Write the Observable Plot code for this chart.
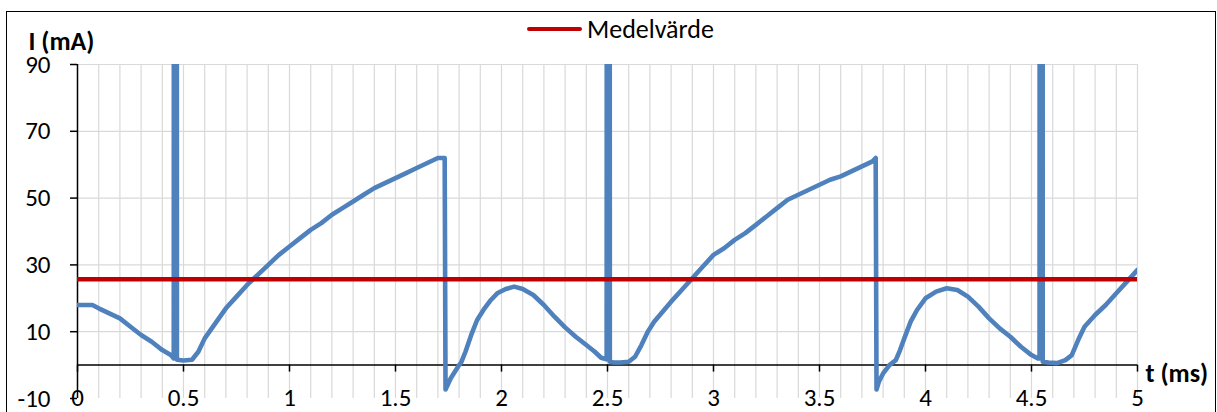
<!DOCTYPE html>
<html><head><meta charset="utf-8">
<script src="https://cdn.jsdelivr.net/npm/d3@7"></script>
<script src="https://cdn.jsdelivr.net/npm/@observablehq/plot@0.6"></script>
<style>
html,body{margin:0;padding:0;background:#fff;}
#wrap{position:relative;width:1217px;height:412px;overflow:hidden;font-family:Carlito,Lato,sans-serif;}
#wrap svg{position:absolute;left:0;top:0;}
#border{position:absolute;left:6px;top:11px;width:1210px;height:420px;border:1.5px solid #000;box-sizing:border-box;pointer-events:none;}
#legend{position:absolute;left:527px;top:15px;display:flex;align-items:center;font-size:26px;line-height:28px;color:#000;}
#legend .sw{display:inline-block;width:55px;height:4.5px;background:#c00000;border-radius:2px;margin-right:5px;}
</style></head><body>
<div id="wrap"><div id="legend"><span class="sw"></span><span id="legtext"></span></div></div>
<script>
// ---- data ----
const tValues = [0,0.02,0.07,0.1,0.15,0.2,0.25,0.3,0.35,0.4,0.44,0.454,0.4615,0.469,0.5,0.54,0.57,0.6,0.65,0.7,0.75,0.8,0.85,0.9,0.95,1.0,1.05,1.1,1.15,1.2,1.25,1.3,1.35,1.4,1.45,1.5,1.55,1.6,1.65,1.7,1.732,1.736,1.76,1.78,1.8,1.81,1.83,1.86,1.885,1.92,1.95,1.98,2.02,2.06,2.1,2.15,2.2,2.25,2.3,2.35,2.4,2.44,2.47,2.496,2.5035,2.511,2.53,2.56,2.6,2.63,2.66,2.69,2.72,2.76,2.8,2.85,2.9,2.95,3.0,3.05,3.1,3.15,3.2,3.25,3.3,3.35,3.4,3.45,3.5,3.55,3.6,3.65,3.7,3.75,3.765,3.769,3.78,3.8,3.83,3.86,3.88,3.9,3.93,3.96,4.0,4.05,4.1,4.15,4.2,4.25,4.3,4.35,4.4,4.45,4.5,4.53,4.538,4.5455,4.553,4.58,4.62,4.66,4.69,4.72,4.75,4.8,4.85,4.9,4.95,5.0];
const iValues = [18,18,18,17,15.5,14,11.5,9,7,4.5,3,2,2000,1.6,1.4,1.6,4,8,12.5,17,20.5,24,27,30,33,35.5,38,40.5,42.5,45,47,49,51,53,54.5,56,57.5,59,60.5,62,62,-7.3,-4,-2,0,0.8,4,9.5,13.5,17,19.5,21.5,22.8,23.5,22.8,21,18,14.5,11.3,8.5,6,4,2.2,1.7,2000,1,0.8,0.8,1,2.5,6,10,13,16,19,22.5,26,29.5,33,35,37.5,39.5,42,44.5,47,49.5,51,52.5,54,55.5,56.5,58,59.5,61,62,-7.3,-5,-2.5,0,1.5,4.5,8,13,16.5,20,22,23,22.5,20.5,17.5,14,11,8.5,5.5,3,2,2,2000,1,0.8,0.6,1.5,3,7.5,11.5,15,18,21.5,25,28.5];
const meanValue = 25.7;
const legendLabel = "Medelvärde";
const xAxisLabel = "t (ms)";
const yAxisLabel = "I (mA)";
const xTicks = [0,0.5,1,1.5,2,2.5,3,3.5,4,4.5,5];
const xTickLabels = ["0","0.5","1","1.5","2","2.5","3","3.5","4","4.5","5"];
const yTicks = [-10,10,30,50,70,90];
const yTickLabels = ["-10","10","30","50","70","90"];
const yGrid = [10,30,50,70,90];
const xGrid = d3.range(0,51).map(i=>i/10);

// ---- chart ----
const data = tValues.map((t,i)=>({t, I:iValues[i]}));
const font = "Carlito, Lato, sans-serif";
const chart = Plot.plot({
  width:1217, height:412,
  marginLeft:77, marginRight:80, marginTop:64, marginBottom:14,
  x:{domain:[0,5], axis:null},
  y:{domain:[-10,90], axis:null},
  style:{fontFamily:font, fontSize:"25px", background:"transparent", color:"#000", overflow:"visible"},
  marks:[
    Plot.ruleX(xGrid,{x:d=>d, y1:-10, y2:90, stroke:"#d9d9d9", strokeWidth:1.2}),
    Plot.ruleY(yGrid,{y:d=>d, x1:0, x2:5, stroke:"#d9d9d9", strokeWidth:1.2}),
    Plot.ruleY([0],{x1:0, x2:5, stroke:"#000", strokeWidth:1.5}),
    Plot.ruleX(xTicks,{x:d=>d, y1:0, y2:-2.1, stroke:"#000", strokeWidth:1.5}),
    Plot.ruleX([0],{y1:-10, y2:90, stroke:"#000", strokeWidth:1.5}),
    Plot.ruleY(yTicks,{y:d=>d, x1:-0.033, x2:0, stroke:"#000", strokeWidth:1.5}),
    Plot.text(yTicks,{x:0, y:d=>d, dx:-27, text:(d,i)=>yTickLabels[i], textAnchor:"end", fontSize:25, fill:"#000"}),
    Plot.text(xTicks,{x:d=>d, y:-10, dy:-1, text:(d,i)=>xTickLabels[i], fontSize:25, fill:"#000"}),
    Plot.line(data,{x:"t", y:"I", stroke:"#4f81bd", strokeWidth:4.6, clip:true, strokeLinejoin:"round", strokeLinecap:"round"}),
    Plot.ruleY([meanValue],{x1:0, x2:5, stroke:"#c00000", strokeWidth:4.5}),
    Plot.text([yAxisLabel],{frameAnchor:"top-left", dx:-49, dy:-33, textAnchor:"start", fontWeight:"bold", fontSize:26, fill:"#000"}),
    Plot.text([xAxisLabel],{x:5, y:0, dx:8, dy:9, textAnchor:"start", fontWeight:"bold", fontSize:26, fill:"#000"})
  ]
});
const wrap = document.getElementById("wrap");
wrap.insertBefore(chart, wrap.firstChild);
document.getElementById("legtext").textContent = legendLabel;
const b = document.createElement("div"); b.id = "border"; wrap.appendChild(b);
</script>
</body></html>
